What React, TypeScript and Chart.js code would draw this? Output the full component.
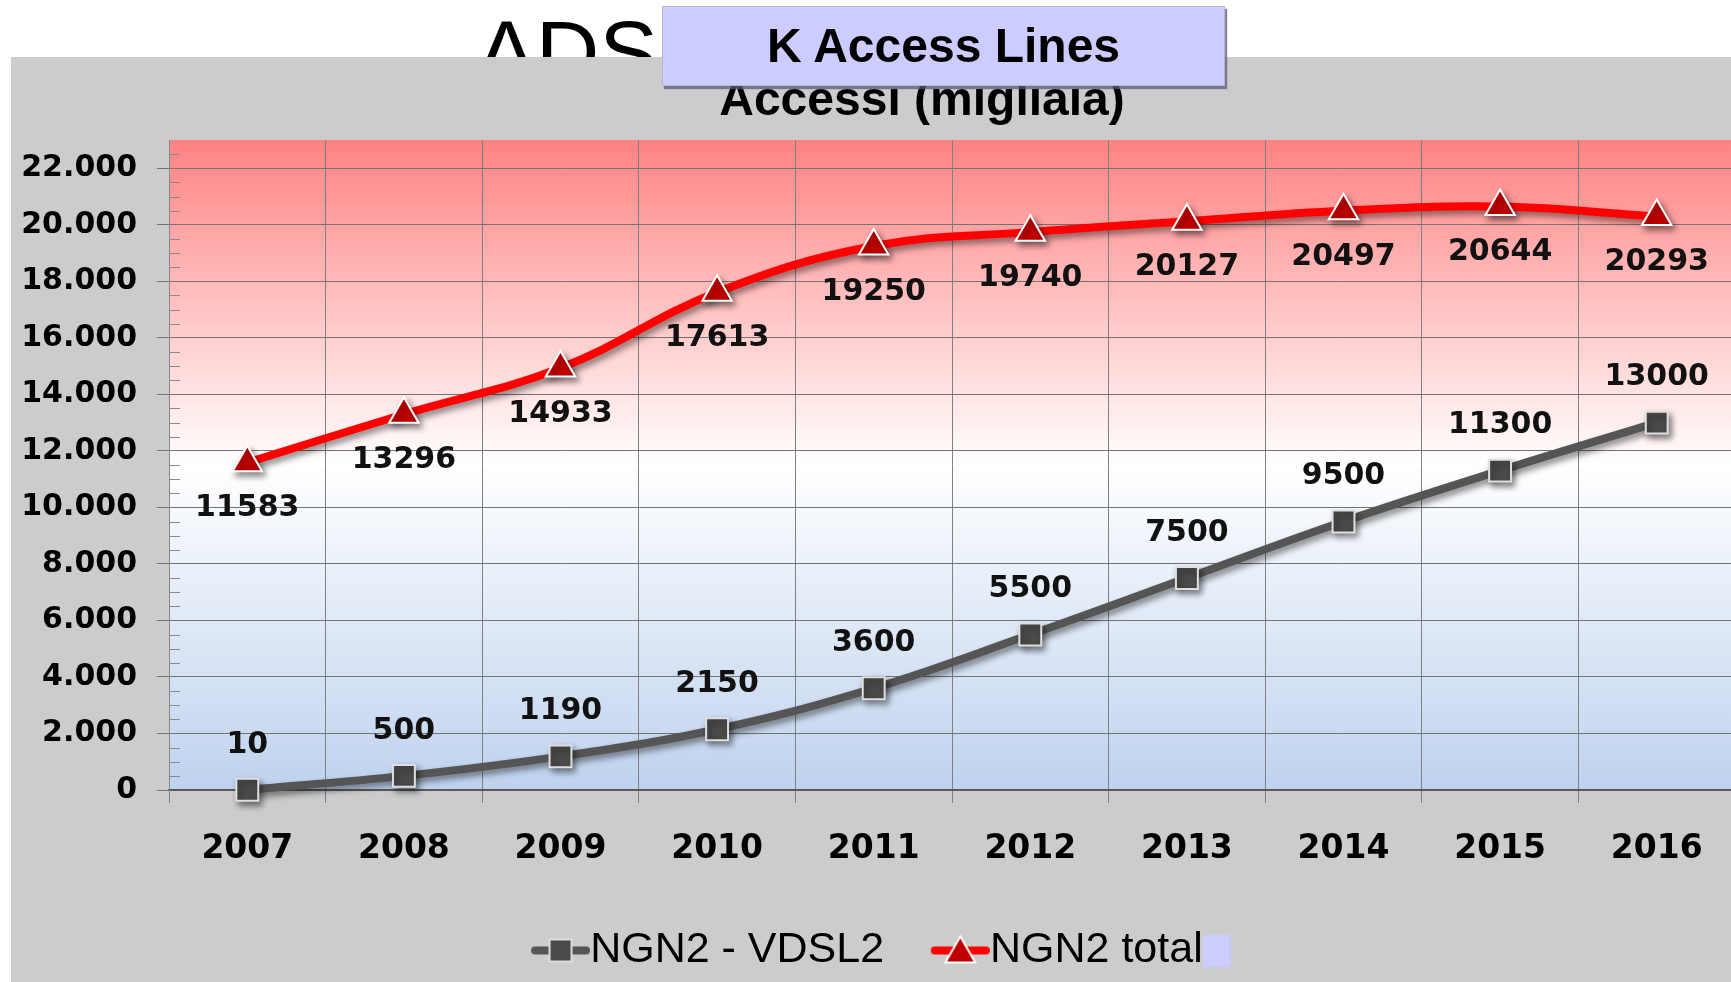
import { useEffect, useRef } from 'react';
import { Chart, registerables } from 'chart.js';

Chart.register(...registerables);

// ---------- data ----------
const categories = ['2007', '2008', '2009', '2010', '2011', '2012', '2013', '2014', '2015', '2016'];
const vdsl2Values = [10, 500, 1190, 2150, 3600, 5500, 7500, 9500, 11300, 13000];
const totalValues = [11583, 13296, 14933, 17613, 19250, 19740, 20127, 20497, 20644, 20293];
const seriesNames = ['NGN2 - VDSL2', 'NGN2 total'];
const yTickValues = [0, 2000, 4000, 6000, 8000, 10000, 12000, 14000, 16000, 18000, 20000, 22000];
const yMax = 23000;
const yMinorStep = 500;
const chartTitle = 'Accessi (migliaia)';
const slideTitle = 'ADSL';
const boxTitle = 'K Access Lines';

// ---------- layout / style ----------
const CANVAS_W = 1750;
const CANVAS_H = 925;
const AREA_LEFT = 158;
const AREA_RIGHT = 1724;
const AREA_TOP = 83;
const AREA_BOTTOM = 733;
const LABEL_FONT = "'DejaVu Sans', Verdana, sans-serif";
const SANS = "'Liberation Sans', Arial, sans-serif";
const LEGEND_FONT = "'Liberation Sans', Arial, sans-serif";
const LEGEND_SIZE = 43;
const LEGEND_PAD = 59;

const fmtThousands = (v: number) => String(v).replace(/\B(?=(\d{3})+(?!\d))/g, '.');

function makeIcon(kind: 'square' | 'triangle', width: number, visible: number, height: number) {
  const c = document.createElement('canvas');
  c.width = Math.max(1, Math.round(width));
  c.height = height;
  const ctx = c.getContext('2d')!;
  const cy = height / 2;
  const x1 = c.width;
  const x0 = x1 - visible;
  ctx.lineCap = 'round';
  ctx.lineWidth = 8;
  ctx.strokeStyle = kind === 'square' ? '#555555' : '#ff0000';
  ctx.beginPath();
  ctx.moveTo(x0 + 4, cy);
  ctx.lineTo(x1 - 4, cy);
  ctx.stroke();
  const cx = (x0 + x1) / 2;
  if (kind === 'square') {
    ctx.fillStyle = '#4a4a4a';
    ctx.strokeStyle = '#dddddd';
    ctx.lineWidth = 2;
    ctx.fillRect(cx - 11, cy - 11, 22, 22);
    ctx.strokeRect(cx - 11, cy - 11, 22, 22);
  } else {
    ctx.fillStyle = '#c00000';
    ctx.strokeStyle = '#ffffff';
    ctx.lineWidth = 2;
    ctx.beginPath();
    ctx.moveTo(cx, cy - 14);
    ctx.lineTo(cx + 15, cy + 12);
    ctx.lineTo(cx - 15, cy + 12);
    ctx.closePath();
    ctx.fill();
    ctx.stroke();
  }
  return c;
}

const bgPlugin = {
  id: 'plotBackground',
  beforeDraw(chart: any) {
    const { ctx, chartArea: a } = chart;
    ctx.save();
    ctx.fillStyle = '#cccccc';
    ctx.fillRect(0, 0, chart.width, chart.height);
    const g = ctx.createLinearGradient(0, a.top, 0, a.bottom);
    g.addColorStop(0, '#ff8282');
    g.addColorStop(0.5, '#ffffff');
    g.addColorStop(1, '#bed2ee');
    ctx.fillStyle = g;
    ctx.fillRect(a.left, a.top, a.right - a.left, a.bottom - a.top);
    // chart title
    ctx.fillStyle = '#000';
    ctx.font = `bold 48px ${SANS}`;
    ctx.textAlign = 'center';
    ctx.textBaseline = 'alphabetic';
    ctx.fillText(chartTitle, 911, 58);
    ctx.restore();
  },
};

const minorTickPlugin = {
  id: 'minorTicks',
  beforeDatasetsDraw(chart: any) {
    const { ctx, chartArea: a } = chart;
    const y = chart.scales.y;
    ctx.save();
    ctx.strokeStyle = '#8a8a8a';
    ctx.lineWidth = 1;
    for (let v = yMinorStep; v < yMax; v += yMinorStep) {
      if (yTickValues.includes(v)) continue;
      const py = Math.round(y.getPixelForValue(v)) + 0.5;
      ctx.beginPath();
      ctx.moveTo(a.left, py);
      ctx.lineTo(a.left + 11, py);
      ctx.stroke();
    }
    ctx.restore();
  },
};

const shadowPlugin = {
  id: 'lineShadow',
  beforeDatasetDraw(chart: any) {
    const ctx = chart.ctx;
    ctx.save();
    ctx.shadowColor = 'rgba(0,0,0,0.45)';
    ctx.shadowBlur = 6;
    ctx.shadowOffsetX = 3;
    ctx.shadowOffsetY = 4;
  },
  afterDatasetDraw(chart: any) {
    chart.ctx.restore();
  },
};

const valueLabelPlugin = {
  id: 'valueLabels',
  afterDatasetsDraw(chart: any) {
    const ctx = chart.ctx;
    ctx.save();
    ctx.fillStyle = '#111';
    ctx.font = `bold 30px ${LABEL_FONT}`;
    ctx.textAlign = 'center';
    ctx.textBaseline = 'middle';
    chart.data.datasets.forEach((ds: any, di: number) => {
      const meta = chart.getDatasetMeta(di);
      const off = di === 0 ? -45 : 46;
      meta.data.forEach((pt: any, i: number) => {
        ctx.fillText(String(ds.data[i]), pt.x, pt.y + off);
      });
    });
    ctx.restore();
  },
};

export default function App() {
  const ref = useRef<HTMLCanvasElement | null>(null);

  useEffect(() => {
    document.body.style.margin = '0';
    const canvas = ref.current!;
    // measure legend texts to lay out the legend row
    const mctx = document.createElement('canvas').getContext('2d')!;
    mctx.font = `${LEGEND_SIZE}px ${LEGEND_FONT}`;
    const t1 = mctx.measureText(seriesNames[0]).width;
    const t2 = mctx.measureText(seriesNames[1]).width;
    const half = LEGEND_SIZE / 2;
    const text2Start = 979;
    const pad = LEGEND_PAD;
    const text1Start = (AREA_RIGHT - pad - t1 - t2) / 2;
    let P = (text2Start - text1Start - t1) - half - pad;
    if (P < 2) P = 2;
    const iconW = P + LEGEND_SIZE;
    const visible = Math.min(59, iconW);
    const icons = [
      makeIcon('square', iconW, visible, 34),
      makeIcon('triangle', iconW, visible, 34),
    ];
    const legendH = LEGEND_SIZE + pad + 10;
    const xAxisH = CANVAS_H - AREA_BOTTOM - legendH;

    const chart = new Chart(canvas, {
      type: 'line',
      data: {
        labels: categories,
        datasets: [
          {
            label: seriesNames[0],
            data: vdsl2Values,
            borderColor: '#555555',
            borderWidth: 8,
            tension: 0.4,
            fill: false,
            clip: false,
            pointStyle: 'rect',
            pointRadius: 15.5,
            pointBackgroundColor: '#4a4a4a',
            pointBorderColor: '#e0e0e0',
            pointBorderWidth: 2,
          },
          {
            label: seriesNames[1],
            data: totalValues,
            borderColor: '#ff0000',
            borderWidth: 8,
            tension: 0.4,
            fill: false,
            clip: false,
            pointStyle: 'triangle',
            pointRadius: 17,
            pointBackgroundColor: '#c00000',
            pointBorderColor: '#ffffff',
            pointBorderWidth: 2,
          },
        ],
      },
      options: {
        animation: false,
        responsive: false,
        devicePixelRatio: 1,
        layout: { padding: { left: 0, right: CANVAS_W - AREA_RIGHT, top: AREA_TOP, bottom: 0 } },
        plugins: {
          title: { display: false },
          tooltip: { enabled: false },
          legend: {
            display: true,
            position: 'bottom',
            labels: {
              usePointStyle: true,
              pointStyleWidth: P,
              padding: pad,
              color: '#000',
              font: { family: LEGEND_FONT, size: LEGEND_SIZE },
              generateLabels: (ch: any) => {
                const items = (Chart.defaults.plugins.legend.labels as any).generateLabels(ch);
                return items.map((it: any, i: number) => ({ ...it, pointStyle: icons[i], fontColor: '#000' }));
              },
            },
          },
        },
        scales: {
          x: {
            type: 'category',
            offset: true,
            grid: { offset: true, color: '#808080', lineWidth: 1, tickLength: 13, drawTicks: true },
            border: { display: true, color: '#5a5a5a', width: 2 },
            ticks: {
              color: '#000',
              font: { family: LABEL_FONT, size: 33, weight: 'bold', lineHeight: 1.1 },
              padding: 28,
              maxRotation: 0,
              autoSkip: false,
            },
            afterFit: (s: any) => { s.height = xAxisH; },
          },
          y: {
            min: 0,
            max: yMax,
            ticks: {
              color: '#000',
              font: { family: LABEL_FONT, size: 30, weight: 'bold' },
              padding: 20,
              autoSkip: false,
              callback: (v: any) => fmtThousands(Number(v)),
            },
            grid: { color: '#737373', lineWidth: 1, tickLength: 12, drawTicks: true },
            border: { display: true, color: '#888888', width: 1 },
            afterBuildTicks: (s: any) => { s.ticks = yTickValues.map((v) => ({ value: v })); },
            afterFit: (s: any) => { s.width = AREA_LEFT; },
          },
        },
      } as any,
      plugins: [bgPlugin, minorTickPlugin, shadowPlugin, valueLabelPlugin],
    });
    return () => chart.destroy();
  }, []);

  return (
    <div style={{ position: 'fixed', left: 0, top: 0, width: 1731, height: 982, overflow: 'hidden', background: '#ffffff' }}>
      <div
        style={{
          position: 'absolute', left: 477, top: 8, fontFamily: SANS, fontSize: 88, lineHeight: '88px',
          color: '#000', whiteSpace: 'nowrap',
        }}
      >
        {slideTitle}
      </div>
      <div style={{ position: 'absolute', left: 11, top: 57, width: 1720, height: CANVAS_H, overflow: 'hidden', background: '#cccccc' }}>
        <canvas ref={ref} width={CANVAS_W} height={CANVAS_H} style={{ display: 'block', width: CANVAS_W, height: CANVAS_H }} />
      </div>
      <div
        style={{
          position: 'absolute', left: 662, top: 6, width: 561, height: 78, background: '#ccccff',
          border: '1px solid #b4b4d8', boxShadow: '2px 3px 1px rgba(90,90,120,0.75)',
          fontFamily: SANS, fontWeight: 'bold', fontSize: 48, lineHeight: '78px', textAlign: 'center', color: '#000',
        }}
      >
        {boxTitle}
      </div>
      <div style={{ position: 'absolute', left: 1203, top: 935, width: 28, height: 32, background: '#ccccff' }} />
    </div>
  );
}
